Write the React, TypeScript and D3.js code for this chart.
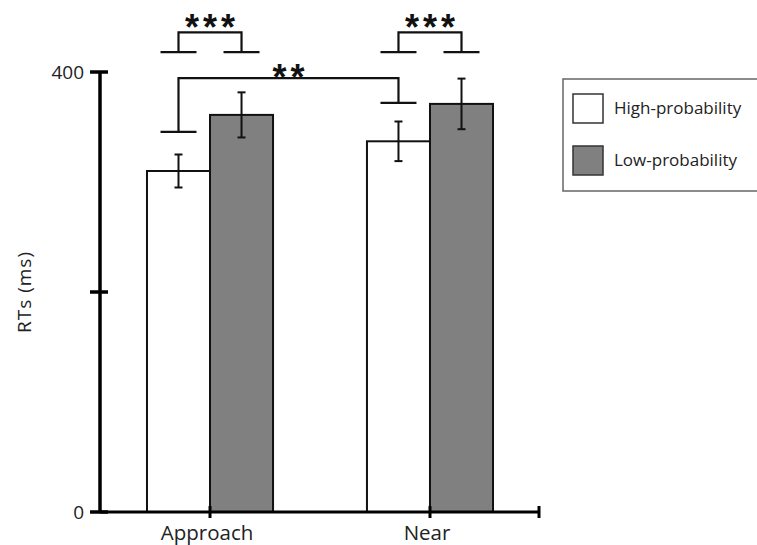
import * as d3 from 'd3';
import { useEffect, useRef } from 'react';

const categories = ['Approach', 'Near'];
const groups = ['high', 'low'];
const highValues = [310, 337];
const lowValues = [361, 371];
const highErrors = [15, 18];
const lowErrors = [20.5, 23];
const yTicks = [0, 200, 400];
const legendLabels = ['High-probability', 'Low-probability'];

// significance brackets: [category, group] pairs, bar level and foot levels in ms
const brackets = [
    { from: [0, 'high'], to: [0, 'low'], top: 436, footFrom: 418, footTo: 418, label: '***' },
    { from: [1, 'high'], to: [1, 'low'], top: 436, footFrom: 418, footTo: 418, label: '***' },
    { from: [0, 'high'], to: [1, 'high'], top: 394.5, footFrom: 345.5, footTo: 372, label: '**' },
];

const FONT = '"Open Sans", sans-serif';

export default function App() {
    const ref = useRef<any>();

    useEffect(() => {
        const width = 757;
        const height = 545;
        const margin = { top: 72, right: 217, bottom: 33, left: 100 };
        const innerW = width - margin.left - margin.right;
        const innerH = height - margin.top - margin.bottom;

        const svg = d3.select(ref.current);
        svg.selectAll('*').remove();

        const g = svg.append('g').attr('transform', `translate(${margin.left},${margin.top})`);

        const x = d3.scaleBand().domain(categories).range([0, innerW]).paddingInner(0.427).paddingOuter(0.2136);
        const xSub = d3.scaleBand().domain(groups).range([0, x.bandwidth()]);
        const y = d3.scaleLinear().domain([0, 400]).range([innerH, 0]);

        const rows = categories.map((c, i) => ({
            cat: c,
            bars: [
                { key: 'high', v: highValues[i], e: highErrors[i], fill: '#ffffff' },
                { key: 'low', v: lowValues[i], e: lowErrors[i], fill: '#808080' },
            ],
        }));

        const barCenter = (ci: number, grp: string) =>
            (x(categories[ci]) as number) + (xSub(grp) as number) + xSub.bandwidth() / 2;

        // bars
        const cg = g.selectAll('.cat').data(rows).join('g')
            .attr('class', 'cat')
            .attr('transform', d => `translate(${x(d.cat)},0)`);

        cg.selectAll('rect').data(d => d.bars).join('rect')
            .attr('x', d => xSub(d.key) as number)
            .attr('y', d => y(d.v))
            .attr('width', xSub.bandwidth())
            .attr('height', d => innerH - y(d.v))
            .attr('fill', d => d.fill)
            .attr('stroke', '#111')
            .attr('stroke-width', 2);

        // error bars
        const eb = cg.selectAll('.err').data(d => d.bars).join('g').attr('class', 'err');
        const cx = (d: any) => (xSub(d.key) as number) + xSub.bandwidth() / 2;
        eb.append('line')
            .attr('x1', cx).attr('x2', cx)
            .attr('y1', d => y(d.v + d.e)).attr('y2', d => y(d.v - d.e))
            .attr('stroke', '#111').attr('stroke-width', 2);
        [1, -1].forEach(s => {
            eb.append('line')
                .attr('x1', d => cx(d) - 4).attr('x2', d => cx(d) + 4)
                .attr('y1', d => y(d.v + s * d.e)).attr('y2', d => y(d.v + s * d.e))
                .attr('stroke', '#111').attr('stroke-width', 2);
        });

        // axes
        g.append('line').attr('x1', 0).attr('x2', 0).attr('y1', 0).attr('y2', innerH)
            .attr('stroke', '#000').attr('stroke-width', 3.5);
        g.selectAll('.ytick').data(yTicks).join('line').attr('class', 'ytick')
            .attr('x1', -10).attr('x2', 8)
            .attr('y1', d => y(d)).attr('y2', d => y(d))
            .attr('stroke', '#000').attr('stroke-width', 3.5);
        g.selectAll('.ylab').data(yTicks.filter(t => t !== 200)).join('text').attr('class', 'ylab')
            .attr('x', -16).attr('y', d => y(d))
            .attr('dy', '0.35em')
            .attr('text-anchor', 'end')
            .style('font-family', FONT).style('font-size', '19px').attr('fill', '#222')
            .text(d => d);

        g.append('line').attr('x1', 0).attr('x2', innerW).attr('y1', innerH).attr('y2', innerH)
            .attr('stroke', '#000').attr('stroke-width', 3);
        const xTickPos = [...categories.map(c => (x(c) as number) + x.bandwidth() / 2), innerW - 1];
        g.selectAll('.xtick').data(xTickPos).join('line').attr('class', 'xtick')
            .attr('x1', d => d).attr('x2', d => d)
            .attr('y1', innerH - 6).attr('y2', innerH + 6)
            .attr('stroke', '#000').attr('stroke-width', 3);
        g.selectAll('.xlab').data(categories).join('text').attr('class', 'xlab')
            .attr('x', d => (x(d) as number) + x.bandwidth() / 2 - 3)
            .attr('y', innerH + 28)
            .attr('text-anchor', 'middle')
            .style('font-family', FONT).style('font-size', '20.5px').attr('fill', '#222')
            .text(d => d);

        svg.append('text')
            .attr('transform', `translate(31,${margin.top + innerH / 2}) rotate(-90)`)
            .attr('text-anchor', 'middle')
            .style('font-family', FONT).style('font-size', '19px').style('letter-spacing', '1px')
            .attr('fill', '#222')
            .text('RTs (ms)');

        // significance brackets
        brackets.forEach(b => {
            const x1 = barCenter(b.from[0] as number, b.from[1] as string);
            const x2 = barCenter(b.to[0] as number, b.to[1] as string);
            const path = d3.path();
            path.moveTo(x1, y(b.footFrom));
            path.lineTo(x1, y(b.top));
            path.lineTo(x2, y(b.top));
            path.lineTo(x2, y(b.footTo));
            g.append('path').attr('d', path.toString()).attr('fill', 'none')
                .attr('stroke', '#111').attr('stroke-width', 2.2);
            [[x1, b.footFrom], [x2, b.footTo]].forEach(([fx, fy]) => {
                g.append('line').attr('x1', fx - 18).attr('x2', fx + 18)
                    .attr('y1', y(fy)).attr('y2', y(fy))
                    .attr('stroke', '#111').attr('stroke-width', 2.2);
            });
            const labelDy = b.label.length === 2 ? 12 : 8;
            g.append('text')
                .attr('x', (x1 + x2) / 2 + 2)
                .attr('y', y(b.top) + labelDy)
                .attr('text-anchor', 'middle')
                .style('font-family', '"Liberation Sans", Arial, sans-serif')
                .style('font-size', '36px').style('font-weight', 'bold')
                .style('letter-spacing', '4px')
                .attr('fill', '#111')
                .text(b.label);
        });

        // legend
        const lg = svg.append('g').attr('transform', 'translate(563,79)');
        lg.append('rect').attr('x', 0).attr('y', 0).attr('width', 210).attr('height', 112)
            .attr('fill', '#fff').attr('stroke', '#666').attr('stroke-width', 1.5);
        const li = lg.selectAll('.li').data(legendLabels).join('g').attr('class', 'li')
            .attr('transform', (d, i) => `translate(10,${15 + i * 52})`);
        li.append('rect').attr('width', 30).attr('height', 29)
            .attr('fill', (d, i) => i === 0 ? '#ffffff' : '#808080')
            .attr('stroke', '#333').attr('stroke-width', 1.5);
        li.append('text').attr('x', 41).attr('y', 14.5).attr('dy', '0.35em')
            .style('font-family', FONT).style('font-size', '17px').attr('fill', '#222')
            .text(d => d);
    }, []);

    return (
        <svg ref={ref} width={757} height={545} style={{ position: 'absolute', left: 0, top: 0, background: '#fff' }}></svg>
    );
}
